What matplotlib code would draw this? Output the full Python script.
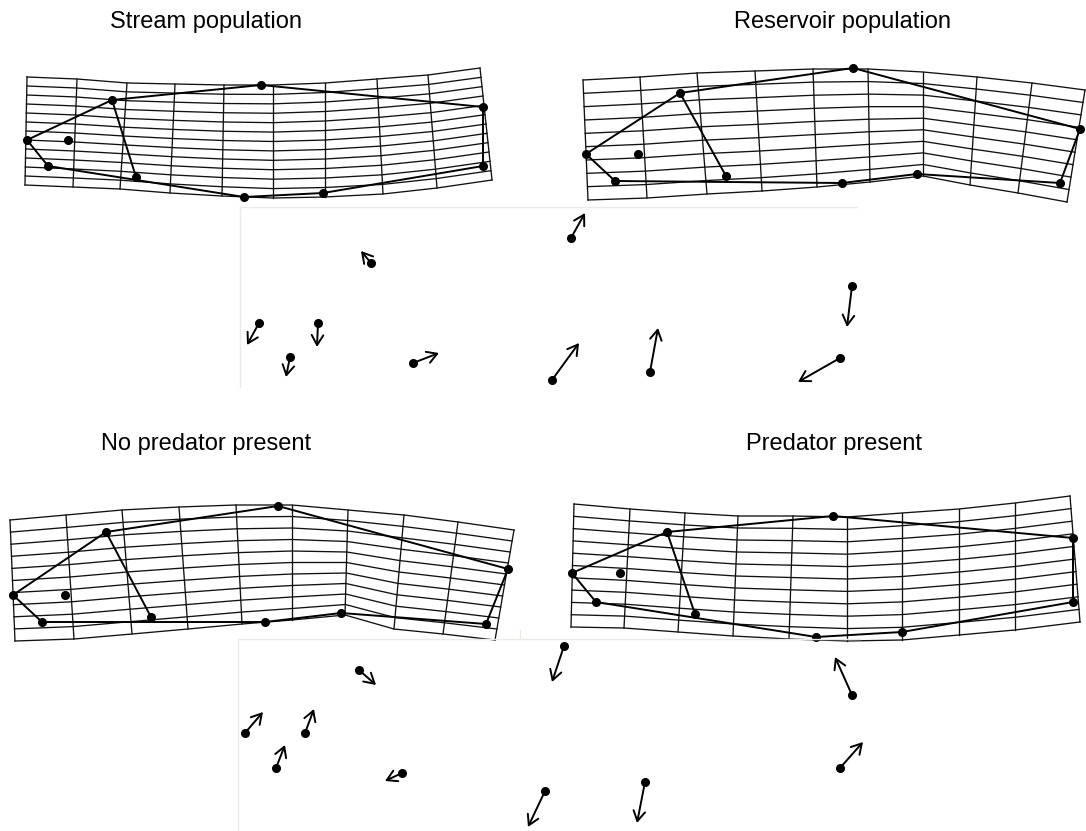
import numpy as np
import matplotlib.pyplot as plt

plt.rcParams['font.family'] = ['Liberation Sans', 'DejaVu Sans']

W, H = 1086, 831

# titles
titles = ['Stream population', 'Reservoir population', 'No predator present', 'Predator present']

# landmark links (1-based landmark numbers); landmark 2 stands alone
links = [(1, 3), (3, 7), (7, 8), (8, 10), (10, 9), (9, 6), (6, 4), (4, 1), (4, 5)]

# ---- deformation grids: ends of the 10 column lines, number of rows ----
stream_top_x = [27, 77, 127, 175, 224, 273, 325, 377, 428, 480]
stream_top_y = [27, 29, 33, 34, 35, 35, 33, 29, 25, 18]
stream_bot_x = [25, 73, 120, 170, 222, 273, 325, 383, 437, 492]
stream_bot_y = [135, 137, 139, 143, 146, 148, 147, 144, 138, 130]
stream_rows = 12
stream_lm_x = [27, 68, 48, 112, 136, 261, 244, 323, 483, 483]
stream_lm_y = [90, 90, 116, 50, 127, 35, 147, 143, 57, 116]

res_top_x = [13, 70, 127, 185, 243, 298, 353, 407, 462, 515]
res_top_y = [30, 27, 23, 21, 19, 19, 22, 27, 33, 40]
res_bot_x = [18, 77, 137, 192, 247, 300, 353, 400, 448, 497]
res_bot_y = [150, 148, 144, 141, 137, 132, 126, 135, 143, 152]
res_rows = 9
res_lm_x = [16, 68, 45, 110, 156, 283, 272, 347, 510, 490]
res_lm_y = [104, 104, 131, 43, 126, 18, 133, 124, 79, 133]

nopred_top_x = [10, 66, 122, 179, 236, 292, 348, 404, 458, 514]
nopred_top_y = [30, 25, 20, 17, 15, 15, 20, 25, 32, 40]
nopred_bot_x = [15, 74, 132, 188, 242, 292, 345, 394, 443, 495]
nopred_bot_y = [151, 149, 144, 139, 134, 130, 125, 139, 144, 150]
nopred_rows = 10
nopred_lm_x = [13, 65, 42, 106, 151, 278, 265, 341, 508, 486]
nopred_lm_y = [105, 105, 132, 42, 127, 16, 132, 123, 79, 134]

pred_top_x = [24, 80, 135, 188, 243, 297, 352, 409, 465, 520]
pred_top_y = [14, 19, 23, 26, 26, 27, 23, 19, 13, 6]
pred_bot_x = [21, 74, 128, 183, 239, 297, 352, 409, 465, 530]
pred_bot_y = [137, 138, 142, 146, 149, 151, 150, 145, 140, 132]
pred_rows = 10
pred_lm_x = [22, 70, 46, 117, 145, 283, 266, 352, 523, 523]
pred_lm_y = [83, 83, 112, 42, 124, 26, 147, 142, 48, 112]

# ---- landmark shift vectors (start point -> arrow tip) ----
vec1_x0 = [341, 141, 29, 88, 60, 183, 322, 420, 622, 610]
vec1_y0 = [38, 63, 123, 123, 157, 163, 180, 172, 86, 158]
vec1_x1 = [355, 131, 17, 87, 56, 209, 349, 428, 617, 568]
vec1_y1 = [13, 51, 145, 147, 177, 153, 143, 128, 127, 182]

vec2_x0 = [334, 129, 15, 75, 46, 172, 315, 415, 622, 610]
vec2_y0 = [16, 40, 103, 103, 138, 143, 161, 152, 65, 138]
vec2_x1 = [322, 146, 33, 84, 55, 155, 298, 407, 605, 633]
vec2_y1 = [52, 55, 82, 79, 115, 151, 197, 193, 27, 112]

fig = plt.figure(figsize=(W / 100, H / 100), dpi=100)


def panel(x0, y0, w, h):
    ax = fig.add_axes([x0 / W, 1 - (y0 + h) / H, w / W, h / H])
    ax.set_xlim(0, w)
    ax.set_ylim(h, 0)
    ax.axis('off')
    return ax


def draw_grid(ax, tx, ty, bx, by, rows, lx, ly):
    tx, ty, bx, by = map(np.array, (tx, ty, bx, by))
    for v in np.linspace(0, 1, rows + 1):
        ax.plot(tx * (1 - v) + bx * v, ty * (1 - v) + by * v, color='#111111', lw=0.95)
    for k in range(len(tx)):
        ax.plot([tx[k], bx[k]], [ty[k], by[k]], color='#111111', lw=0.95)
    for a, b in links:
        ax.plot([lx[a - 1], lx[b - 1]], [ly[a - 1], ly[b - 1]], color='black', lw=1.4)
    ax.plot(lx, ly, 'o', color='black', ms=5.5, ls='none')


def draw_vectors(ax, x0, y0, x1, y1):
    for i in range(len(x0)):
        ax.annotate('', xy=(x1[i], y1[i]), xytext=(x0[i], y0[i]),
                    arrowprops=dict(arrowstyle='->,head_length=0.6,head_width=0.35',
                                    lw=1.4, color='black', shrinkA=0, shrinkB=0,
                                    mutation_scale=12))
    ax.plot(x0, y0, 'o', color='black', ms=5.5, ls='none')


ax = panel(0, 50, 520, 160)
draw_grid(ax, stream_top_x, stream_top_y, stream_bot_x, stream_bot_y, stream_rows, stream_lm_x, stream_lm_y)
ax = panel(570, 50, 516, 160)
draw_grid(ax, res_top_x, res_top_y, res_bot_x, res_bot_y, res_rows, res_lm_x, res_lm_y)
ax = panel(0, 490, 530, 160)
draw_grid(ax, nopred_top_x, nopred_top_y, nopred_bot_x, nopred_bot_y, nopred_rows, nopred_lm_x, nopred_lm_y)
ax = panel(550, 490, 536, 160)
draw_grid(ax, pred_top_x, pred_top_y, pred_bot_x, pred_bot_y, pred_rows, pred_lm_x, pred_lm_y)

# faint frame edges of the pasted vector panels
edge = '#ecebe2'
ax = panel(230, 200, 640, 195)
ax.plot([10, 627], [7, 7], color=edge, lw=1)
ax.plot([10, 10], [7, 187], color=edge, lw=1)
draw_vectors(ax, vec1_x0, vec1_y0, vec1_x1, vec1_y1)

ax = panel(230, 630, 640, 201)
ax.plot([8, 630], [9, 9], color=edge, lw=1)
ax.plot([8, 8], [9, 201], color=edge, lw=1)
ax.plot([290, 290], [-135, 9], color=edge, lw=1)
draw_vectors(ax, vec2_x0, vec2_y0, vec2_x1, vec2_y1)

fig.text(206 / W, 1 - 28 / H, titles[0], ha='center', va='baseline', fontsize=17)
fig.text(843 / W, 1 - 28 / H, titles[1], ha='center', va='baseline', fontsize=17)
fig.text(206 / W, 1 - 450 / H, titles[2], ha='center', va='baseline', fontsize=17)
fig.text(834 / W, 1 - 450 / H, titles[3], ha='center', va='baseline', fontsize=17)

fig.savefig('out.png', dpi=100)
